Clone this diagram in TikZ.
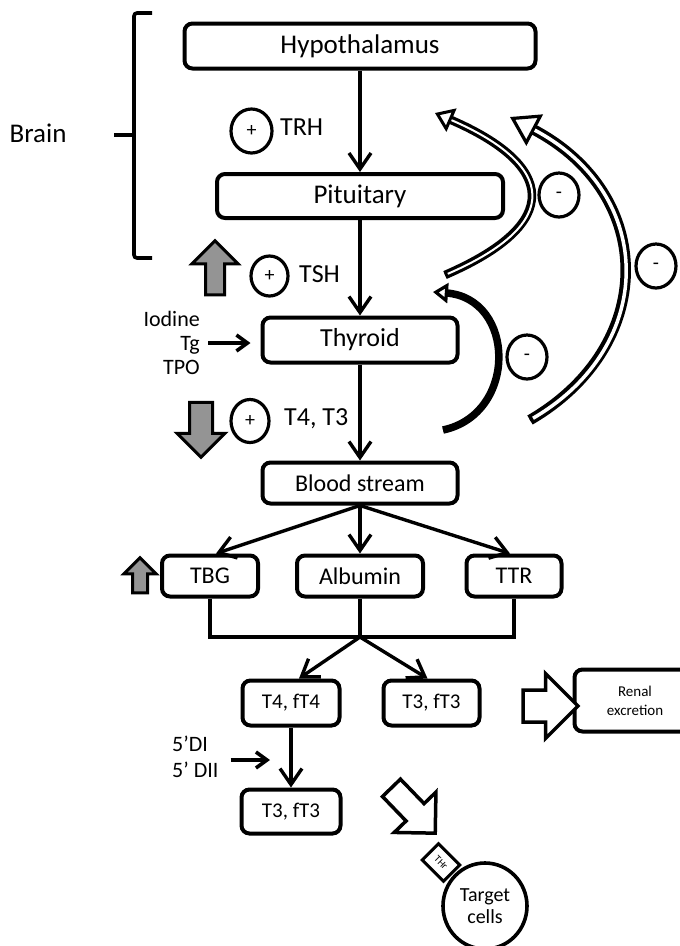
\documentclass[tikz,border=0pt]{standalone}
\usepackage{fontspec}
\setmainfont{Carlito}
\usetikzlibrary{arrows.meta,shapes.geometric,shapes.arrows}

\begin{document}
\begin{tikzpicture}[x=1pt,y=-1pt,
		box_style/.style={draw=black,line width=4pt,rounded corners=8pt,inner sep=0pt,align=center},
		sign_style/.style={ellipse,draw=black,line width=3.2pt,inner sep=0pt,minimum width=40pt,minimum height=44pt,font=\fontsize{20}{22}\selectfont},
		label_style/.style={anchor=base west,inner sep=0pt,font=\fontsize{26}{28}\selectfont},
		edge_style/.style={draw=black,line width=3.4pt,-{Straight Barb[length=16pt,width=22pt]}},
		side_style/.style={draw=black,line width=3.6pt,-{Straight Barb[length=11pt,width=16pt]}},
		gray_arrow/.style={single arrow,draw=black,line width=3pt,fill=black!42,inner sep=0pt},
		open_arrow/.style={single arrow,draw=black,line width=3.5pt,fill=white,inner sep=0pt},
		fb_inner/.style={draw=black,line width=7.5pt,shorten >=13pt,
			preaction={draw,line width=3.2pt,shorten >=0pt,-{Triangle[open,length=15pt,width=20pt]}}},
		fb_mid/.style={draw=black,line width=8.5pt,shorten >=17pt,
			preaction={draw,line width=3pt,shorten >=0pt,-{Triangle[open,length=18pt,width=25pt]}},
			postaction={draw=white,line width=2pt,shorten >=18pt,shorten <=3pt}},
		fb_outer/.style={draw=black,line width=10.5pt,shorten >=27pt,
			preaction={draw,line width=3.2pt,shorten >=0pt,-{Triangle[open,length=28pt,width=35pt]}},
			postaction={draw=white,line width=3.5pt,shorten >=28pt,shorten <=3.5pt}}]

		\useasboundingbox (0,0) rectangle (680,946);

		% brain
		\node[font=\fontsize{27}{30}\selectfont] (brain) at (38,133) {Brain};
		\draw[line width=3.6pt,rounded corners=3pt] (152,13) -- (134,13) -- (134,258) -- (152,258);
		\draw[line width=3.6pt] (134,135) -- (114,135);

		\node[box_style,minimum width=351pt,minimum height=45pt,font=\fontsize{27}{30}\selectfont] (hypo) at (360,46) {Hypothalamus};
		\node[box_style,minimum width=286pt,minimum height=44pt,font=\fontsize{27}{30}\selectfont] (pit) at (360,196) {Pituitary};
		\node[box_style,minimum width=195pt,minimum height=45pt,font=\fontsize{26}{28}\selectfont] (thy) at (360,340) {Thyroid};
		\node[box_style,minimum width=195pt,minimum height=41pt,font=\fontsize{24}{26}\selectfont] (blood) at (360,483) {Blood stream};

		\node[box_style,minimum width=96pt,minimum height=41pt,font=\fontsize{24}{26}\selectfont] (tbg) at (210,576) {TBG};
		\node[box_style,minimum width=126pt,minimum height=41pt,font=\fontsize{24}{26}\selectfont] (alb) at (360,576) {Albumin};
		\node[box_style,minimum width=95pt,minimum height=41pt,font=\fontsize{24}{26}\selectfont] (ttr) at (514,576) {TTR};

		\node[box_style,minimum width=97pt,minimum height=45pt,font=\fontsize{21}{23}\selectfont] (t4) at (291,703) {T4, fT4};
		\node[box_style,minimum width=96pt,minimum height=45pt,font=\fontsize{21}{23}\selectfont] (t3) at (431.5,703) {T3, fT3};
		\node[box_style,minimum width=121pt,minimum height=62pt,font=\fontsize{15}{19}\selectfont] (renal) at (635,700.5) {Renal\\excretion};
		\node[box_style,minimum width=99pt,minimum height=44pt,font=\fontsize{21}{23}\selectfont] (t3b) at (291,811.5) {T3, fT3};

		% plus and minus signs
		\node[sign_style,minimum width=41pt,minimum height=44pt] (trhsign) at (251.5,131) {+};
		\node[sign_style,minimum width=37pt,minimum height=40pt] (tshsign) at (269.5,276) {+};
		\node[sign_style,minimum width=38pt,minimum height=43pt] (t43sign) at (250,421) {+};
		\node[label_style] (trh) at (280,135) {TRH};
		\node[label_style] (tsh) at (299,282) {TSH};
		\node[label_style] (t43) at (284,425) {T4, T3};

		\node[sign_style] (minus1) at (559,195) {-};
		\node[sign_style] (minus2) at (656,266) {-};
		\node[sign_style] (minus3) at (527,357) {-};

		% gray arrows
		\node[gray_arrow,rotate=90,minimum height=54pt,inner ysep=8pt,single arrow head extend=13.5pt] (tshup) at (215,272.5) {};
		\node[gray_arrow,rotate=-90,minimum height=55pt,inner ysep=10pt,single arrow head extend=12.5pt] (t43down) at (201,424) {};
		\node[gray_arrow,rotate=90,minimum height=35pt,inner ysep=6pt,single arrow head extend=8.5pt] (tbgup) at (140,579) {};

		% side inputs
		\node[anchor=east,align=right,inner sep=0pt,font=\fontsize{22}{24}\selectfont] (iod) at (200,343) {Iodine\\Tg\\TPO};
		\node[anchor=west,align=left,inner sep=0pt,font=\fontsize{22}{26}\selectfont] (deiod) at (172,757) {5’DI\\5’ DII};
		\coordinate (deiodtip) at (270,760);

		% main axis
		\draw[edge_style] (hypo) -- (pit);
		\draw[edge_style] (pit) -- (thy);
		\draw[edge_style] (thy) -- (blood);
		\draw[edge_style] (blood.south) -- ([xshift=6pt]tbg.north);
		\draw[edge_style] (blood) -- (alb);
		\draw[edge_style] (blood.south) -- ([xshift=-4pt]ttr.north);

		\coordinate (join) at (360,637);
		\draw[line width=3.4pt] (tbg.south) |- (join) -| (ttr.south);
		\draw[line width=3.4pt] (alb.south) -- (join);
		\draw[edge_style] (join) -- ([xshift=8pt]t4.north);
		\draw[edge_style] (join) -- ([xshift=-4pt]t3.north);
		\draw[edge_style] (t4) -- (t3b);

		\draw[side_style] ([xshift=8pt]iod.east) -- ([xshift=-10pt]iod.east -| thy.west);
		\draw[side_style] ([xshift=12pt,yshift=-3pt]deiod.east) -- (deiodtip);

		% feedback
		\coordinate (fb1s) at (445,275);
		\coordinate (fb1t) at (435,113);
		\coordinate (fb2s) at (530,420);
		\coordinate (fb2t) at (510,117);
		\coordinate (fb3s) at (443,430);
		\coordinate (fb3t) at (433,292);
		\draw[fb_mid] (fb1s) .. controls (565,223) and (555,165) .. (fb1t);
		\draw[fb_outer] (fb2s) .. controls (657,346) and (657,195) .. (fb2t);
		\draw[fb_inner] (fb3s) .. controls (518,414) and (516,298) .. (fb3t);

		% excretion and target cells
		\node[open_arrow,minimum height=55pt,inner ysep=14.25pt,single arrow head extend=16.5pt] (torenal) at (542.5,706) {};
		\node[open_arrow,rotate=-46,minimum height=63pt,inner ysep=10.75pt,single arrow head extend=16.5pt] (tocells) at (409,806) {};
		\node[ellipse,draw=black,line width=3.6pt,minimum width=84pt,minimum height=86pt,inner sep=0pt,align=center,font=\fontsize{20}{22}\selectfont] (cells) at (485,906) {Target\\cells};
		\node[draw=black,fill=white,line width=3pt,rotate=-45,minimum width=30pt,minimum height=23pt,inner sep=0pt,font=\fontsize{10}{11}\selectfont] (thr) at (441,862.5) {THr};

\end{tikzpicture}
\end{document}
